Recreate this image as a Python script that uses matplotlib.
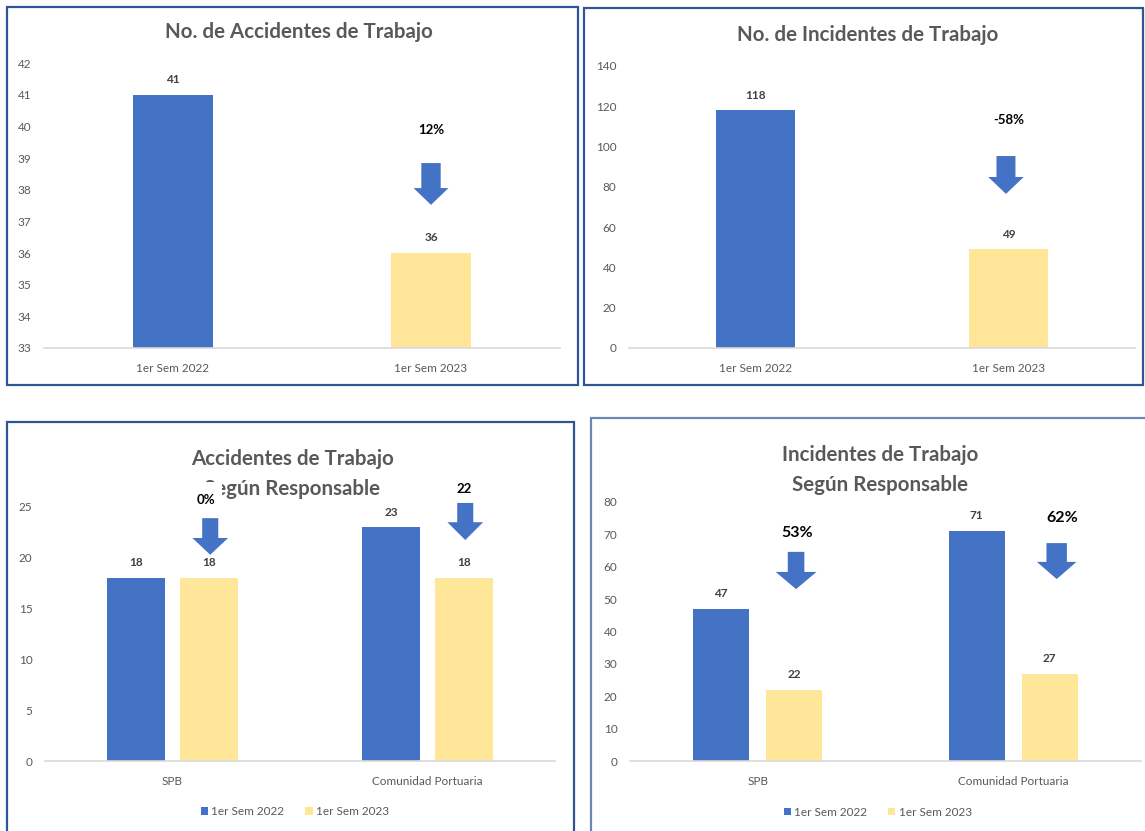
import matplotlib.pyplot as plt
from matplotlib.patches import Rectangle, FancyArrow

plt.rcParams['font.family'] = ['Lato', 'DejaVu Sans']

# Data
periods = ['1er Sem 2022', '1er Sem 2023']
accidentes = [41, 36]
incidentes = [118, 49]

responsables = ['SPB', 'Comunidad Portuaria']
acc_2022 = [18, 23]
acc_2023 = [18, 18]
inc_2022 = [47, 71]
inc_2023 = [22, 27]

pct_accidentes = '12%'
pct_incidentes = '-58%'
pct_acc_resp = ['0%', '22']
pct_inc_resp = ['53%', '62%']

# Colours
blue = '#4472C4'
yellow = '#FFE699'
grey = '#595959'
dark = '#404040'
arrow_col = '#4472C4'

W, H = 1145, 831
fig = plt.figure(figsize=(W / 100, H / 100), dpi=100)


def px_axes(x0, y0, x1, y1):
    # place an axes from pixel box (top-left origin)
    return fig.add_axes([x0 / W, 1 - y1 / H, (x1 - x0) / W, (y1 - y0) / H])


def px_border(x0, y0, x1, y1, color='#2F5597'):
    fig.patches.append(Rectangle((x0 / W, 1 - y1 / H), (x1 - x0) / W, (y1 - y0) / H,
                                 transform=fig.transFigure, fill=False,
                                 edgecolor=color, linewidth=1.6))


def style(ax, ymin, ymax, step, cats):
    ax.set_ylim(ymin, ymax)
    ax.set_xlim(-0.5, 1.5)
    ax.set_yticks(range(ymin, ymax + 1, step))
    ax.set_xticks(range(len(cats)))
    ax.set_xticklabels(cats)
    for s in ['top', 'right', 'left']:
        ax.spines[s].set_visible(False)
    ax.spines['bottom'].set_color('#D9D9D9')
    ax.spines['bottom'].set_linewidth(1.2)
    ax.tick_params(axis='both', length=0, labelsize=8.5, labelcolor=grey)
    ax.tick_params(axis='y', pad=9)
    ax.tick_params(axis='x', pad=11)


def label_bars(ax, bars):
    for b in bars:
        ax.annotate(f'{b.get_height():g}', (b.get_x() + b.get_width() / 2, b.get_height()),
                    xytext=(0, 7), textcoords='offset points', ha='center', va='bottom',
                    fontsize=8.5, fontweight='bold', color=dark)


def down_arrow(ax, x, top, tip, head_start, shaft_w, head_w):
    ax.add_patch(FancyArrow(x, top, 0, tip - top, width=shaft_w, head_width=head_w,
                            head_length=head_start - tip, length_includes_head=True,
                            color=arrow_col, linewidth=0, clip_on=False, zorder=5))


title_kw = dict(ha='center', va='center', fontsize=14.8, fontweight='bold', color=grey)

# Panel 1: No. de Accidentes de Trabajo
px_border(7, 7, 578, 385)
ax1 = px_axes(44, 63, 560, 348)
bars = ax1.bar(range(2), [a - 33 for a in accidentes], bottom=33, width=0.31, color=[blue, yellow])
for b, v in zip(bars, accidentes):
    ax1.annotate(str(v), (b.get_x() + b.get_width() / 2, v), xytext=(0, 7),
                 textcoords='offset points', ha='center', va='bottom',
                 fontsize=8.5, fontweight='bold', color=dark)
style(ax1, 33, 42, 1, periods)
ax1.text(0.494, 1.11, 'No. de Accidentes de Trabajo', transform=ax1.transAxes, **title_kw)
ax1.text(1, 39.88, pct_accidentes, ha='center', va='center', fontsize=9.5, fontweight='bold', color='black')
down_arrow(ax1, 1, 38.84, 37.52, 38.05, 0.075, 0.135)

# Panel 2: No. de Incidentes de Trabajo
px_border(584, 8, 1143, 385)
ax2 = px_axes(629, 66, 1135, 348)
bars = ax2.bar(range(2), incidentes, width=0.31, color=[blue, yellow])
label_bars(ax2, bars)
style(ax2, 0, 140, 20, periods)
ax2.text(0.472, 1.11, 'No. de Incidentes de Trabajo', transform=ax2.transAxes, **title_kw)
ax2.text(1, 113.2, pct_incidentes, ha='center', va='center', fontsize=9.5, fontweight='bold', color='black')
down_arrow(ax2, 0.99, 95.3, 76.5, 84.9, 0.075, 0.14)

# Panel 3: Accidentes de Trabajo Según Responsable
px_border(7, 422, 574, 840)
ax3 = px_axes(45, 507, 555, 761)
x = [0, 1]
off, bw = 0.143, 0.224
b1 = ax3.bar([i - off for i in x], acc_2022, width=bw, color=blue, label=periods[0])
b2 = ax3.bar([i + off for i in x], acc_2023, width=bw, color=yellow, label=periods[1])
label_bars(ax3, b1)
label_bars(ax3, b2)
style(ax3, 0, 25, 5, responsables)
ax3.text(0.485, 1.13, 'Accidentes de Trabajo\nSegún Responsable', transform=ax3.transAxes,
         linespacing=1.62, zorder=1, **title_kw)
# the 0% text box hides the start of the second title line, as in the original
ax3.add_patch(Rectangle((off - 0.085, 24.6), 0.135, 2.85, facecolor='white', edgecolor='none',
                        zorder=3, clip_on=False))
ax3.text(off - 0.01, 25.72, pct_acc_resp[0], ha='center', va='center', fontsize=9.5, fontweight='bold',
         color='black', zorder=4, clip_on=False)
down_arrow(ax3, off + 0.005, 23.9, 20.3, 21.95, 0.063, 0.14)
ax3.text(1 + off, 26.8, pct_acc_resp[1], ha='center', va='center', fontsize=9.5, fontweight='bold',
         color='black', clip_on=False)
down_arrow(ax3, 1 + off + 0.005, 25.4, 21.75, 23.5, 0.063, 0.14)
ax3.legend(loc='center', bbox_to_anchor=(0.49, -0.2), ncol=2, frameon=False, fontsize=8.5,
           handlelength=0.6, handleheight=0.6, handletextpad=0.3, columnspacing=1.8,
           labelcolor=grey)

# Panel 4: Incidentes de Trabajo Según Responsable
px_border(591, 418, 1160, 840, color='#6C86B5')
ax4 = px_axes(630, 502, 1141, 761)
b1 = ax4.bar([i - off for i in x], inc_2022, width=0.22, color=blue, label=periods[0])
b2 = ax4.bar([i + off for i in x], inc_2023, width=0.22, color=yellow, label=periods[1])
label_bars(ax4, b1)
label_bars(ax4, b2)
style(ax4, 0, 80, 10, responsables)
ax4.text(0.49, 1.125, 'Incidentes de Trabajo\nSegún Responsable', transform=ax4.transAxes,
         linespacing=1.62, **title_kw)
ax4.text(0.155, 70.4, pct_inc_resp[0], ha='center', va='center', fontsize=11.5, fontweight='bold', color='black')
down_arrow(ax4, 0.15, 64.6, 53.1, 58.4, 0.065, 0.16)
ax4.text(1.19, 75.06, pct_inc_resp[1], ha='center', va='center', fontsize=11.5, fontweight='bold', color='black')
down_arrow(ax4, 1.17, 67.3, 56.2, 61.5, 0.08, 0.155)
ax4.legend(loc='center', bbox_to_anchor=(0.485, -0.197), ncol=2, frameon=False, fontsize=8.5,
           handlelength=0.6, handleheight=0.6, handletextpad=0.3, columnspacing=1.8,
           labelcolor=grey)

fig.savefig('out.png', dpi=100)
